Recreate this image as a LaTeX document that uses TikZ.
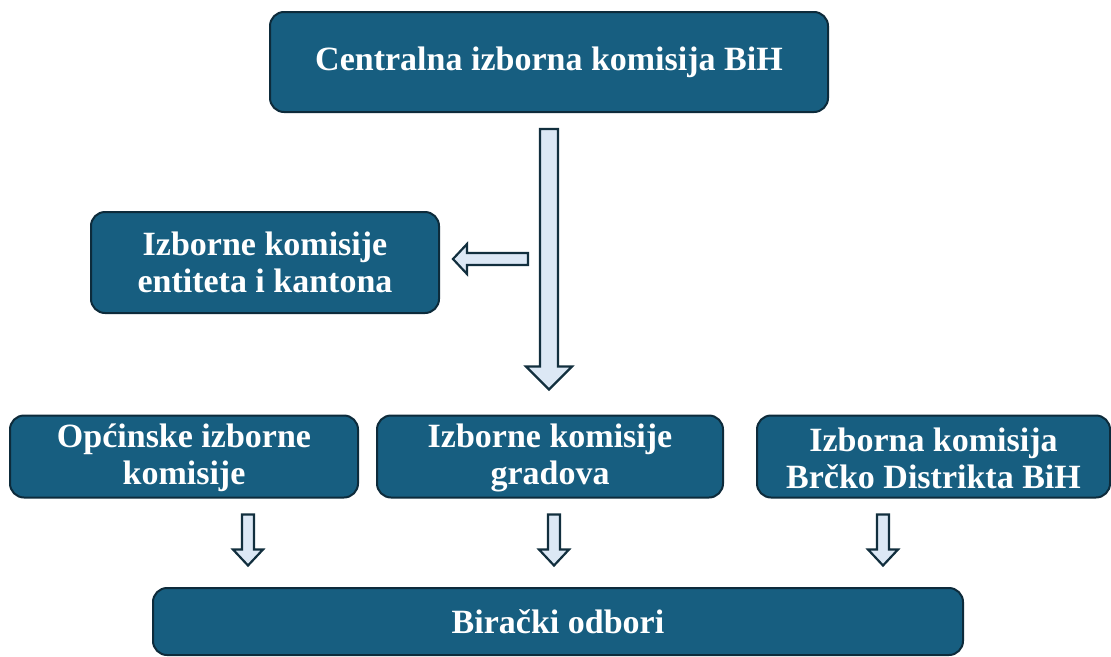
\documentclass[tikz,border=0pt]{standalone}
\usepackage{fontspec}
\setmainfont{Liberation Serif}
\usepackage{tikz}
\usetikzlibrary{positioning}
\usetikzlibrary{calc}
\definecolor{boxblue}{HTML}{175E80}
\definecolor{boxline}{HTML}{0D2B3B}
\definecolor{arrowfill}{HTML}{DCE8F5}
\definecolor{arrowline}{HTML}{122F3E}
\tikzstyle{commbox}=[rectangle,rounded corners=14pt,draw=boxline,line width=2pt,fill=boxblue,text=white,align=center,inner sep=0pt,font=\bfseries\fontsize{34}{37}\selectfont]
\tikzstyle{blockarrow} = [draw=arrowline,line width=2.2pt,fill=arrowfill,line join=miter]
% hollow arrow pointing down: from, to, half shaft, half head, head length
\newcommand{\downblock}[5]{%
  \path[blockarrow] let \p1=(#1), \p2=(#2) in
    (\x1-#3pt,\y1) -- (\x1+#3pt,\y1) -- (\x1+#3pt,\y2+#5pt) -- (\x1+#4pt,\y2+#5pt)
    -- (\x1,\y2) -- (\x1-#4pt,\y2+#5pt) -- (\x1-#3pt,\y2+#5pt) -- cycle;}
% hollow arrow pointing left
\newcommand{\leftblock}[5]{%
  \path[blockarrow] let \p1=(#1), \p2=(#2) in
    (\x1,\y1+#3pt) -- (\x2+#5pt,\y1+#3pt) -- (\x2+#5pt,\y1+#4pt) -- (\x2,\y1)
    -- (\x2+#5pt,\y1-#4pt) -- (\x2+#5pt,\y1-#3pt) -- (\x1,\y1-#3pt) -- cycle;}

\begin{document}
\begin{tikzpicture}[x=1pt,y=-1pt]
    \useasboundingbox (0,0) rectangle (1111,656);

    % commissions
    \node[commbox, minimum width=558pt, minimum height=100pt] (ciz) at (549,62) {Centralna izborna komisija BiH};
    \node[commbox, minimum width=348pt, minimum height=101pt] (ent) at (265,262.5) {Izborne komisije\\entiteta i kantona};
    \foreach \pos/\name/\bw/\txt in {{(184,456.5)/opc/348/{Općinske izborne\\komisije}},
                                    {(550,456.5)/grad/346/{Izborne komisije\\gradova}},
                                    {(933.5,456.5)/brc/353/{Izborna komisija\\Brčko Distrikta BiH}}}
            \node[commbox, text height=64pt, minimum width=\bw pt, minimum height=82pt] (\name) at \pos {\txt};
    \node[commbox, minimum width=810pt, minimum height=67pt] (bir) at (558,621.5) {Birački odbori};

    % arrow ends
    \coordinate (cizs) at ($(ciz.south)+(0,16)$);
    \coordinate (cizt) at ($(grad.north)+(-1,-25)$);
    \coordinate (ents) at (528,259);
    \coordinate (entt) at ($(ent.east)+(13,-3.5)$);
    \downblock{cizs}{cizt}{9}{23}{23}
    \leftblock{ents}{entt}{6}{15}{14}

    % lower arrows
    \foreach \name/\dx in {opc/64, grad/4, brc/-50.5}
        {
        \coordinate (\name s) at ($(\name.south)+(\dx,16)$);
        \coordinate (\name t) at ($(\name.south)+(\dx,67)$);
        \downblock{\name s}{\name t}{6}{15}{16}
        }

\end{tikzpicture}
\end{document}
